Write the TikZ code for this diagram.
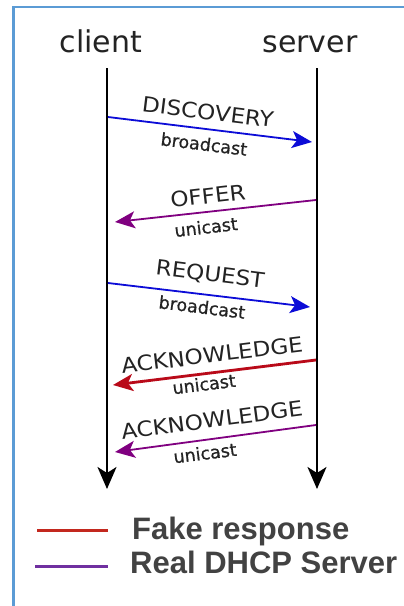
\documentclass[tikz,border=0pt]{standalone}
\usepackage{fontspec}
\setmainfont{DejaVu Sans}
\newfontfamily\msgfont[FakeStretch=1.1]{DejaVu Sans}
\newfontfamily\modefont[FakeBold=0.8]{DejaVu Sans}
\newfontfamily\legendfont{Liberation Sans}
\usetikzlibrary{arrows.meta}

\definecolor{framecol}{RGB}{91,155,213}
\definecolor{bcastblue}{RGB}{12,12,215}
\definecolor{realpurple}{RGB}{128,0,128}
\definecolor{fakered}{RGB}{185,10,25}
\definecolor{legendred}{RGB}{195,40,30}
\definecolor{legendpurple}{RGB}{112,48,160}
\definecolor{legendgray}{RGB}{66,66,66}
\definecolor{inkgray}{RGB}{35,35,35}

\begin{document}
\begin{tikzpicture}[x=1pt,y=-1pt,
  lifeline/.style={line width=2.2pt, draw=black, -{Stealth[length=22pt,width=19pt,inset=6pt]}},
  msg/.style={line width=1.8pt, -{Stealth[length=20pt,width=17pt,inset=5pt]}},
  head/.style={font=\fontsize{30}{36}\selectfont, text=inkgray, inner sep=0pt, anchor=base},
  caplabel/.style={font=\msgfont\fontsize{21}{25}\selectfont, text=inkgray, inner sep=0pt},
  modelabel/.style={font=\modefont\fontsize{17.5}{20}\selectfont, text=inkgray, inner sep=0pt},
  legendline/.style={line width=3pt},
  legendtext/.style={font=\legendfont\bfseries\fontsize{31}{36}\selectfont, text=legendgray, anchor=base west, inner sep=0pt}
]
% page and frame
\fill[white] (0,0) rectangle (404,606);
\useasboundingbox (0,0) rectangle (404,606);
\draw[framecol, line width=2.5pt] (13.5,606) |- (404,7);

% participants
\node[head] (client) at (101,52) {client};
\node[head] (server) at (310,52) {server};
\coordinate (ctop) at (107,68);
\coordinate (cend) at (107,489);
\coordinate (stop) at (317,68);
\coordinate (send) at (317,489);
\draw[lifeline] (ctop) -- (cend);
\draw[lifeline] (stop) -- (send);

% message end points on the lifelines
\coordinate (disc-a) at (108,117);  \coordinate (disc-b) at (312,142);
\coordinate (offer-a) at (316,200); \coordinate (offer-b) at (115,222);
\coordinate (req-a) at (108,283);   \coordinate (req-b) at (310,307);
\coordinate (ack1-a) at (316,360);  \coordinate (ack1-b) at (113,385);
\coordinate (ack2-a) at (316,425);  \coordinate (ack2-b) at (115,452);

% messages
\draw[msg, bcastblue] (disc-a) -- (disc-b);
\node[caplabel, rotate=-7] (disc) at (208,112) {DISCOVERY};
\node[modelabel, rotate=-7] (disc-mode) at (204,144) {broadcast};

\draw[msg, realpurple] (offer-a) -- (offer-b);
\node[caplabel, rotate=6.5] (offer) at (208,196) {OFFER};
\node[modelabel, rotate=6.5] (offer-mode) at (206,227) {unicast};

\draw[msg, bcastblue] (req-a) -- (req-b);
\node[caplabel, rotate=-7] (req) at (210,275) {REQUEST};
\node[modelabel, rotate=-7] (req-mode) at (202,307) {broadcast};

\draw[msg, fakered, line width=2.8pt] (ack1-a) -- (ack1-b);
\node[caplabel, rotate=7] (ack1) at (212,355) {ACKNOWLEDGE};
\node[modelabel, rotate=7] (ack1-mode) at (204,384) {unicast};

\draw[msg, realpurple] (ack2-a) -- (ack2-b);
\node[caplabel, rotate=7.5] (ack2) at (212,420) {ACKNOWLEDGE};
\node[modelabel, rotate=7] (ack2-mode) at (205,453) {unicast};

% legend
\coordinate (lg1a) at (37,530); \coordinate (lg1b) at (108,530);
\coordinate (lg2a) at (35,566); \coordinate (lg2b) at (108,566);
\draw[legendline, legendred] (lg1a) -- (lg1b);
\draw[legendline, legendpurple] (lg2a) -- (lg2b);
\node[legendtext] (fake) at (132,539) {Fake response};
\node[legendtext] (real) at (130,573) {Real DHCP Server};
\end{tikzpicture}
\end{document}
